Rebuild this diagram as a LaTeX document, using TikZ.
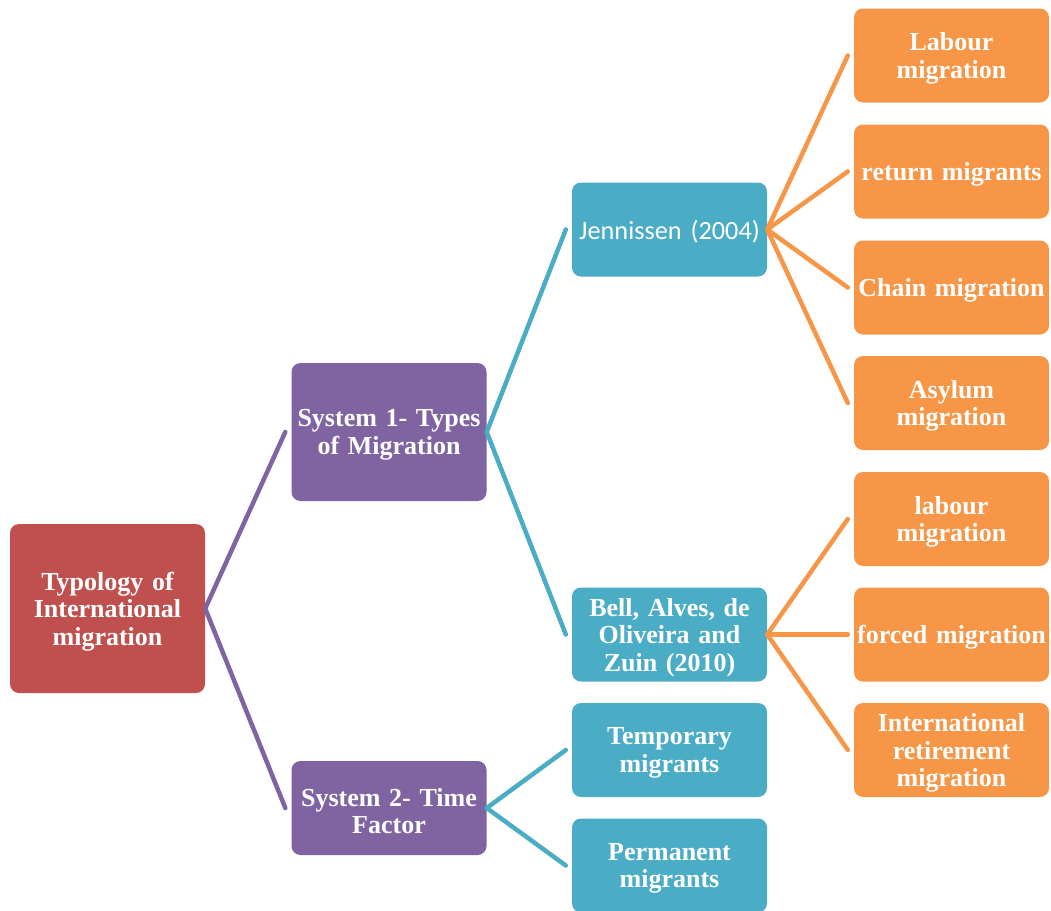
\documentclass[tikz,border=0pt]{standalone}
\usepackage{fontspec}
\setmainfont{Liberation Serif}
\newfontfamily\calib{Carlito}
\definecolor{cred}{HTML}{C0504D}
\definecolor{cpurple}{HTML}{8064A2}
\definecolor{cteal}{HTML}{4BACC6}
\definecolor{corange}{HTML}{F79646}
\begin{document}
\begin{tikzpicture}[x=1pt,y=-1pt,
  boxtext/.style={text width=195pt, inner sep=0pt, align=center, text=white,
    font=\fontsize{26}{27.5}\selectfont\bfseries, yshift=-3pt},
  box/.style={rounded corners=9pt, minimum width=195pt, inner sep=0pt},
  rootbox/.style={box, fill=cred, minimum height=169pt},
  sysbox/.style={box, fill=cpurple},
  tealbox/.style={box, fill=cteal, minimum height=94pt},
  orbox/.style={box, fill=corange, minimum height=94pt},
  link/.style={line width=4.5pt, line cap=round},
]
\path[use as bounding box] (0,0) rectangle (1051,910);
\clip (0,0) rectangle (1051,910);

\node[rootbox, label={[boxtext]center:{Typology of\\International\\migration}}] (root) at (107.5,608.5) {};
\node[sysbox, minimum height=138pt, label={[boxtext]center:{System 1- Types\\of Migration}}] (s1) at (389,432) {};
\node[sysbox, minimum height=94pt, label={[boxtext]center:{System 2- Time\\Factor}}] (s2) at (389,808) {};

\node[tealbox, label={[boxtext, font=\calib\fontsize{26.3}{28}\selectfont, yshift=1pt]center:{Jennissen (2004)}}] (jen) at (669.5,229.5) {};
\node[tealbox, label={[boxtext]center:{Bell, Alves, de\\Oliveira and\\Zuin (2010)}}] (bell) at (669.5,634.5) {};
\node[tealbox, label={[boxtext]center:{Temporary\\migrants}}] (temp) at (669.5,750) {};
\node[tealbox, label={[boxtext]center:{Permanent\\migrants}}] (perm) at (669.5,865.5) {};

\node[orbox, label={[boxtext]center:{Labour\\migration}}] (o1) at (951.5,55.5) {};
\node[orbox, label={[boxtext]center:{return migrants}}] (o2) at (951.5,171.5) {};
\node[orbox, label={[boxtext]center:{Chain migration}}] (o3) at (951.5,287.5) {};
\node[orbox, label={[boxtext]center:{Asylum\\migration}}] (o4) at (951.5,403) {};
\node[orbox, label={[boxtext]center:{labour\\migration}}] (o5) at (951.5,519) {};
\node[orbox, label={[boxtext]center:{forced migration}}] (o6) at (951.5,634.5) {};
\node[orbox, label={[boxtext]center:{International\\retirement\\migration}}] (o7) at (951.5,750) {};

\draw[link, cpurple] (root.east) -- ([xshift=-6pt]s1.west);
\draw[link, cpurple] (root.east) -- ([xshift=-6pt]s2.west);
\draw[link, cteal] (s1.east) -- ([xshift=-6pt]jen.west);
\draw[link, cteal] (s1.east) -- ([xshift=-6pt]bell.west);
\draw[link, cteal] (s2.east) -- ([xshift=-6pt]temp.west);
\draw[link, cteal] (s2.east) -- ([xshift=-6pt]perm.west);
\foreach \t in {o1,o2,o3,o4}
  \draw[link, corange] (jen.east) -- ([xshift=-6pt]\t.west);
\foreach \t in {o5,o6,o7}
  \draw[link, corange] (bell.east) -- ([xshift=-6pt]\t.west);
\end{tikzpicture}
\end{document}
